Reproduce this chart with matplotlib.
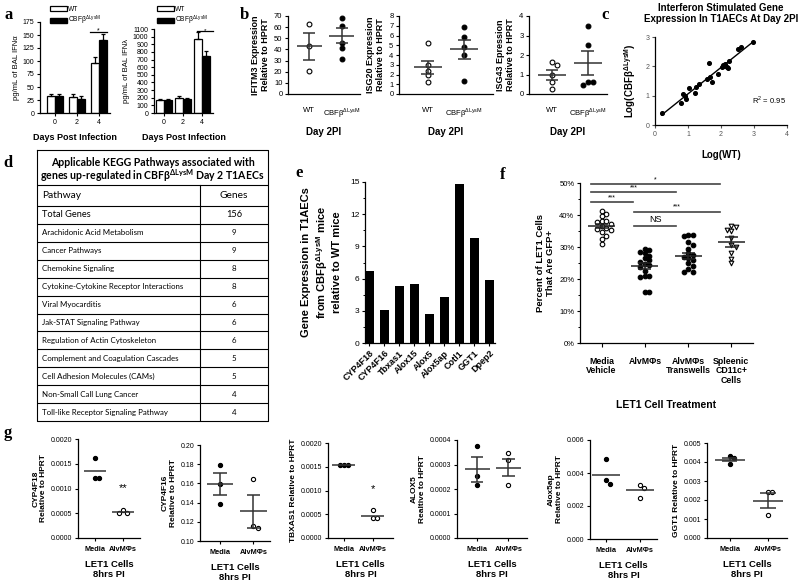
#!/usr/bin/env python3
"""
Multi-panel figure: BAL interferons, ISG expression, KEGG table,
T1AEC gene expression and LET1 co-culture results
"""

import matplotlib
matplotlib.use('Agg')
import matplotlib.pyplot as plt
import numpy as np
from matplotlib.patches import Patch
from matplotlib.ticker import MultipleLocator, PercentFormatter, FormatStrFormatter

# Arial-like text everywhere, mathtext only for the superscripts
plt.rcParams['font.family'] = ['Liberation Sans', 'DejaVu Sans']
plt.rcParams['mathtext.fontset'] = 'custom'
plt.rcParams['mathtext.rm'] = 'Liberation Sans'
plt.rcParams['mathtext.bf'] = 'Liberation Sans:bold'
plt.rcParams['axes.linewidth'] = 0.9

CBF = 'CBFβ$^{\\mathregular{ΔLysM}}$'

# ---- a: BAL interferon levels (pg/mL)
a_days = ['0', '2', '4']
ifna_wt = [32, 31, 96]
ifna_wt_err = [4, 6, 12]
ifna_ko = [32, 26, 140]
ifna_ko_err = [4, 6, 11]
ifnl_wt = [172, 196, 965]
ifnl_wt_err = [8, 22, 100]
ifnl_ko = [176, 188, 748]
ifnl_ko_err = [6, 12, 70]

# ---- b: ISG expression relative to HPRT
b_groups = ['WT', CBF]
ifitm3_wt = [63, 43, 21]
ifitm3_ko = [68, 61, 46, 41, 31]
ifitm3_mean = [42.7, 52.2]
ifitm3_sem = [12.1, 6.6]
isg20_wt = [5.2, 3.0, 2.4, 1.9, 1.25]
isg20_ko = [6.9, 5.8, 4.8, 4.0, 1.3]
isg20_mean = [2.75, 4.6]
isg20_sem = [0.68, 0.97]
isg43_wt = [1.65, 1.5, 0.95, 0.6, 0.25]
isg43_ko = [3.5, 2.5, 0.62, 0.6, 0.45]
isg43_mean = [0.98, 1.57]
isg43_sem = [0.26, 0.61]

# ---- c: log expression, CBFb KO vs WT
c_log_wt = [0.2, 0.79, 0.85, 0.92, 0.94, 1.02, 1.2, 1.25, 1.34, 1.59, 1.63, 1.67,
            1.72, 1.92, 2.02, 2.07, 2.1, 2.13, 2.17, 2.2, 2.24, 2.5, 2.6, 2.98]
c_log_ko = [0.4, 0.74, 1.05, 1.0, 0.88, 1.25, 1.08, 1.29, 1.4, 1.58, 2.1, 1.63,
            1.48, 1.74, 1.99, 2.05, 2.02, 2.07, 1.99, 1.93, 2.18, 2.58, 2.65, 2.84]
c_r2 = 0.95

# ---- d: KEGG pathway table
kegg_pathways = ['Total Genes', 'Arachidonic Acid Metabolism', 'Cancer Pathways',
                 'Chemokine Signaling', 'Cytokine-Cytokine Receptor Interactions',
                 'Viral Myocarditis', 'Jak-STAT Signaling Pathway',
                 'Regulation of Actin Cytoskeleton', 'Complement and Coagulation Cascades',
                 'Cell Adhesion Molecules (CAMs)', 'Non-Small Call Lung Cancer',
                 'Toll-like Receptor Signaling Pathway']
kegg_genes = [156, 9, 9, 8, 8, 6, 6, 6, 5, 5, 4, 4]

# ---- e: fold change in T1AECs
e_genes = ['CYP4F18', 'CYP4F16', 'Tbxas1', 'Alox15', 'Alox5', 'Alox5ap', 'Cotl1', 'GGT1', 'Dpep2']
e_fold = [6.75, 3.05, 5.3, 5.5, 2.7, 4.3, 14.8, 9.8, 5.9]

# ---- f: percent GFP+ LET1 cells
f_groups = ['Media\nVehicle', 'AlvMΦs', 'AlvMΦs\nTranswells', 'Spleenic\nCD11c+\nCells']
f_media = [41.2, 40.4, 39.6, 38.2, 38.0, 37.8, 37.3, 36.5, 36.0, 35.6, 35.4, 34.6, 33.4, 32.6, 30.8]
f_alvm = [29.5, 29.2, 28.3, 28.0, 27.2, 26.5, 25.8, 25.3, 24.8, 24.3, 23.8, 22.5, 21.0, 20.6,
          20.8, 16.0, 16.0]
f_transwell = [33.6, 33.6, 33.5, 31.5, 30.5, 29.5, 28.0, 27.5, 27.0, 26.5, 26.0, 25.0, 24.0,
               23.0, 22.3, 22.3]
f_spleen = [36.5, 36.2, 35.3, 35.0, 32.8, 30.5, 30.0, 28.0, 26.3, 25.0]
f_means = [36.6, 24.1, 27.3, 31.6]
f_sems = [0.7, 1.0, 0.9, 1.5]
f_sig = ['***', '***', '*', 'NS', '***']
f_sig_pairs = [(0, 1), (0, 2), (0, 3), (1, 2), (1, 3)]

# ---- g: LET1 cells 8 hrs PI, relative to HPRT
g_groups = ['Media', 'AlvMΦs']
cyp4f18_media = [0.00162, 0.00122, 0.00122]
cyp4f18_alvm = [0.00057, 0.00051, 0.00051]
cyp4f18_mean = [0.00136, 0.00052]
cyp4f16_media = [0.179, 0.159, 0.139]
cyp4f16_alvm = [0.165, 0.116, 0.114]
cyp4f16_mean = [0.159, 0.131]
cyp4f16_sem = [0.0115, 0.017]
tbxas1_media = [0.00153, 0.00153, 0.00153]
tbxas1_alvm = [0.00058, 0.00042, 0.00042]
tbxas1_mean = [0.00153, 0.00047]
alox5_media = [0.000375, 0.000255, 0.000215]
alox5_alvm = [0.000345, 0.00032, 0.000216]
alox5_mean = [0.00028, 0.000287]
alox5_sem = [0.00005, 0.000035]
alox5ap_media = [0.00483, 0.00355, 0.00335]
alox5ap_alvm = [0.00325, 0.0031, 0.0025]
alox5ap_mean = [0.0039, 0.00295]
ggt1_media = [0.0043, 0.0042, 0.0039]
ggt1_alvm = [0.0024, 0.0024, 0.0012]
ggt1_mean = [0.00413, 0.00197]
ggt1_sem = [0.0001, 0.0004]

W, H = 800, 584
fig = plt.figure(figsize=(W / 100, H / 100), dpi=100)
fig.patch.set_facecolor('white')


def box(x0, y0, x1, y1):
    """Axes placed from a pixel box (left, top, right, bottom)"""
    return fig.add_axes([x0 / W, 1 - y1 / H, (x1 - x0) / W, (y1 - y0) / H])


def style(ax, size=5):
    for s in ('top', 'right'):
        ax.spines[s].set_visible(False)
    ax.tick_params(direction='out', length=2.5, width=0.8, labelsize=size, pad=1.5)


def letter(x, y, s):
    fig.text(x / W, 1 - y / H, s, family='Liberation Serif', weight='bold',
             size=12, ha='center', va='center')


def swarm(ax, vals, diam):
    """Horizontal offsets so markers with close values sit side by side"""
    x0, x1 = ax.get_xlim()
    y0, y1 = ax.get_ylim()
    pos = ax.get_position()
    sx = diam * (x1 - x0) / (pos.width * W)
    sy = diam * (y1 - y0) / (pos.height * H)
    vals = np.asarray(vals, float)
    offs = np.zeros(len(vals))
    done = []
    for i in np.argsort(-vals):
        for k in (0, 1, -1, 2, -2, 3, -3, 4, -4):
            if all(abs(vals[i] - vals[j]) >= sy * 0.9 or abs(k * sx - offs[j]) >= sx * 0.9
                   for j in done):
                offs[i] = k * sx
                break
        done.append(i)
    return offs


def dots(ax, groups, markers, fills, means, sems=None, diam=4.5, half=0.38, cap=0.18,
         color='#333333'):
    for i, vals in enumerate(groups):
        off = swarm(ax, vals, diam)
        ax.scatter(i + off, vals, s=(diam * 0.72) ** 2, marker=markers[i], facecolor=fills[i],
                   edgecolor='black', linewidth=0.8, zorder=3, clip_on=False)
        ax.hlines(means[i], i - half, i + half, color=color, lw=1.1, zorder=4)
        if sems is not None:
            lo, hi = means[i] - sems[i], means[i] + sems[i]
            ax.vlines(i, lo, hi, color=color, lw=1.1, zorder=4)
            ax.hlines([lo, hi], i - cap, i + cap, color=color, lw=1.1, zorder=4)


# ================= a =================
letter(9, 15, 'a')
ekw = dict(elinewidth=0.9, capsize=1.6, capthick=0.9, ecolor='black')


def ifn_panel(ax, wt, wt_err, ko, ko_err, width):
    x = np.arange(len(a_days))
    ax.bar(x - width / 2, wt, width, color='white', edgecolor='black', linewidth=0.9,
           yerr=[np.zeros(len(wt)), wt_err], error_kw=ekw)
    ax.bar(x + width / 2, ko, width, color='black', edgecolor='black', linewidth=0.9,
           yerr=[np.zeros(len(ko)), ko_err], error_kw=ekw)
    ax.set_xticks(x)
    ax.set_xticklabels(a_days)
    style(ax)
    ax.tick_params(axis='x', length=2.5, pad=2)
    ax.set_xlabel('Days Post Infection', fontsize=6.5, weight='bold', labelpad=5)


def ifn_legend(x):
    fig.legend([Patch(fc='white', ec='black', lw=0.9), Patch(fc='black', ec='black')],
               ['WT', CBF], loc='upper left', bbox_to_anchor=(x / W, 1 - 6 / H),
               frameon=False, fontsize=4.8, handlelength=2.5, handleheight=0.85,
               handletextpad=0.15, labelspacing=0.1, borderpad=0, borderaxespad=0)


ax = box(40, 22, 110, 113)
ifn_panel(ax, ifna_wt, ifna_wt_err, ifna_ko, ifna_ko_err, 0.36)
ax.set_xlim(-0.68, 2.5)
ax.set_ylim(0, 175)
ax.yaxis.set_major_locator(MultipleLocator(25))
ax.set_ylabel('pg/mL of BAL IFNα', fontsize=5.5, labelpad=2)
ax.plot([1.6, 2.35], [155, 155], color='black', lw=0.9, clip_on=False)
ax.text(1.98, 157, '*', ha='center', va='center', fontsize=5)
ifn_legend(50)

ax = box(154, 29, 213, 113)
ifn_panel(ax, ifnl_wt, ifnl_wt_err, ifnl_ko, ifnl_ko_err, 0.42)
ax.set_xlim(-0.53, 2.58)
ax.set_ylim(0, 1100)
ax.yaxis.set_major_locator(MultipleLocator(100))
ax.set_ylabel('pg/mL of BAL IFNλ', fontsize=5.5, labelpad=2)
ax.plot([1.74, 2.58], [1075, 1075], color='black', lw=0.9, clip_on=False)
ax.text(2.16, 1080, '*', ha='center', va='center', fontsize=4.6)
ifn_legend(157)

# ================= b =================
letter(244, 15, 'b')
b_specs = [
    ((288, 16, 360, 94), (-0.64, 1.55), (0, 70), 10, 'IFITM3 Expression\nRelative to HPRT',
     ifitm3_wt, ifitm3_ko, ifitm3_mean, ifitm3_sem),
    ((399, 16, 493, 94), (-0.8, 1.8), (0, 8), 1, 'ISG20 Expression\nRelative to HPRT',
     isg20_wt, isg20_ko, isg20_mean, isg20_sem),
    ((529, 16, 607, 94), (-0.64, 1.53), (0, 4), 1, 'ISG43 Epression\nRelative to HPRT',
     isg43_wt, isg43_ko, isg43_mean, isg43_sem),
]
for pix, xl, yl, step, lab, wt, ko, mean, sem in b_specs:
    ax = box(*pix)
    ax.set_xlim(*xl)
    ax.set_ylim(*yl)
    ax.yaxis.set_major_locator(MultipleLocator(step))
    style(ax, 5.5)
    ax.set_xticks([0, 1])
    ax.set_xticklabels(b_groups, fontsize=5.5)
    ax.tick_params(axis='x', length=0, pad=9)
    ax.set_ylabel(lab, fontsize=6.5, weight='bold', labelpad=3, linespacing=1.1)
    ax.set_xlabel('Day 2PI', fontsize=7, weight='bold', labelpad=5)
    dots(ax, [wt, ko], ['o', 'o'], ['white', 'black'], mean, sem, diam=4.8)

# ================= c =================
letter(605, 15, 'c')
ax = box(655, 37, 787, 125)
ax.set_xlim(0, 4)
ax.set_ylim(0, 3)
style(ax, 5)
ax.tick_params(labelcolor='#555555', colors='#555555')
ax.xaxis.set_major_locator(MultipleLocator(1))
ax.yaxis.set_major_locator(MultipleLocator(1))
ax.scatter(c_log_wt, c_log_ko, s=7, color='black', zorder=3)
slope, icpt = np.polyfit(c_log_wt, c_log_ko, 1)
xs = np.array([min(c_log_wt), max(c_log_wt)])
ax.plot(xs, slope * xs + icpt, color='black', lw=1)
ax.text(3.45, 0.85, 'R$^{\\mathregular{2}}$ = %.2f' % c_r2, ha='center', va='center', fontsize=5.5)
ax.set_title('Interferon Stimulated Gene\nExpression In T1AECs At Day 2PI', fontsize=7,
             weight='bold', pad=11, linespacing=1.15)
ax.set_xlabel('Log(WT)', fontsize=7, weight='bold', labelpad=9)
ax.set_ylabel('Log(' + CBF + ')', fontsize=7, weight='bold', labelpad=5)

# ================= d =================
letter(8, 163, 'd')
tfont = ['Lato', 'DejaVu Sans']
ax = box(37, 150, 268, 421)
ax.set_xlim(37, 268)
ax.set_ylim(421, 150)
ax.axis('off')
row_top = 206
row_h = (421 - row_top) / len(kegg_pathways)
lw = 0.8
ax.plot([37, 268, 268, 37, 37], [150, 150, 421, 421, 150], color='black', lw=lw, clip_on=False)
ax.plot([37, 268], [185, 185], color='black', lw=lw)
for k in range(len(kegg_pathways)):
    ax.plot([37, 268], [row_top + k * row_h] * 2, color='black', lw=lw)
ax.plot([200, 200], [185, 421], color='black', lw=lw)
ax.text(152.5, 162, 'Applicable KEGG Pathways associated with', ha='center', va='center',
        family=tfont, weight='bold', fontsize=7.6)
ax.text(152.5, 175.5, 'genes up-regulated in ' + CBF + ' Day 2 T1AECs', ha='center',
        va='center', family=tfont, weight='bold', fontsize=7.6)
ax.text(42, 196, 'Pathway', ha='left', va='center', family=tfont, fontsize=7.4)
ax.text(234, 196, 'Genes', ha='center', va='center', family=tfont, fontsize=7.4)
for k, (name, n) in enumerate(zip(kegg_pathways, kegg_genes)):
    yc = row_top + (k + 0.5) * row_h
    fs = 6.7 if k == 0 else 5.7
    ax.text(42, yc, name, ha='left', va='center', family=tfont, fontsize=fs)
    ax.text(234, yc, str(n), ha='center', va='center', family=tfont, fontsize=fs)

# ================= e =================
letter(299, 173, 'e')
ax = box(365, 182, 495, 343)
xe = np.arange(len(e_genes))
ax.bar(xe, e_fold, 0.6, color='black')
ax.set_xlim(-0.28, 8.4)
ax.set_ylim(0, 15)
ax.yaxis.set_major_locator(MultipleLocator(3))
ax.yaxis.set_minor_locator(MultipleLocator(1.5))
style(ax, 6)
ax.tick_params(axis='y', which='minor', length=1.5, width=0.7)
ax.set_xticks(xe)
ax.set_xticklabels(e_genes, rotation=45, ha='right', rotation_mode='anchor',
                   fontsize=6.5, weight='bold')
ax.set_ylabel('Gene Expression in T1AECs\nfrom ' + CBF + ' mice\nrelative to WT mice',
              fontsize=8, weight='bold', labelpad=6, linespacing=1.25)

# ================= f =================
letter(503, 175, 'f')
ax = box(580, 183, 753, 343)
ax.set_xlim(-0.5, 3.5)
ax.set_ylim(0, 50)
ax.yaxis.set_major_locator(MultipleLocator(10))
ax.yaxis.set_minor_locator(MultipleLocator(5))
ax.yaxis.set_major_formatter(PercentFormatter(decimals=0))
style(ax, 5.5)
ax.tick_params(axis='y', which='minor', length=1.5, width=0.7)
ax.set_xticks(range(4))
ax.set_xticklabels(f_groups, fontsize=6.3, weight='bold', linespacing=1.05)
ax.tick_params(axis='x', length=3, pad=7)
ax.set_ylabel('Percent of LET1 Cells\nThat Are GFP+', fontsize=6.8, weight='bold',
              labelpad=3, linespacing=1.1)
ax.set_xlabel('LET1 Cell Treatment', fontsize=7.5, weight='bold', labelpad=11)
dots(ax, [f_media, f_alvm, f_transwell, f_spleen], ['o', 'o', 'o', 'v'],
     ['white', 'black', 'black', 'white'], f_means, f_sems, diam=4.6, half=0.31, cap=0.15,
     color='#222222')
sig_heights = [44.1, 47.2, 49.7, 36.6, 41.0]
for txt, (i, j), yy in zip(f_sig, f_sig_pairs, sig_heights):
    ax.plot([i - 0.25, j - 0.27], [yy, yy], color='#444444', lw=1.2, clip_on=False)
    big = txt == 'NS'
    ax.text((i - 0.25 + j - 0.27) / 2, yy + (0.6 if big else 0.3), txt, ha='center',
            va='bottom', fontsize=6.5 if big else 5, clip_on=False)

# ================= g =================
letter(8, 433, 'g')
g_specs = [
    ((78, 439, 140, 538), (-0.6, 1.6), (0, 0.002), 0.0005, '%.4f', 'CYP4F18\nRelative to HPRT',
     cyp4f18_media, cyp4f18_alvm, cyp4f18_mean, None, '**'),
    ((200, 445, 270, 541), (-0.6, 1.5), (0.10, 0.20), 0.02, '%.2f', 'CYP4F16\nRelative to HPRT',
     cyp4f16_media, cyp4f16_alvm, cyp4f16_mean, cyp4f16_sem, None),
    ((328, 443, 393, 538), (-0.55, 1.7), (0, 0.002), 0.0005, '%.4f', 'TBXAS1 Relative to HPRT',
     tbxas1_media, tbxas1_alvm, tbxas1_mean, None, '*'),
    ((457, 440, 527, 538), (-0.65, 1.6), (0, 0.0004), 0.0001, '%.4f', 'ALOX5\nRealtive to HPRT',
     alox5_media, alox5_alvm, alox5_mean, alox5_sem, None),
    ((590, 440, 657, 539), (-0.47, 1.5), (0, 0.006), 0.002, '%.3f', 'Alox5ap\nRelative to HPRT',
     alox5ap_media, alox5ap_alvm, alox5ap_mean, None, None),
    ((707, 443, 787, 538), (-0.6, 1.5), (0, 0.005), 0.001, '%.3f', 'GGT1 Relative to HPRT',
     ggt1_media, ggt1_alvm, ggt1_mean, ggt1_sem, None),
]
for pix, xl, yl, step, fmt, lab, med, alv, mean, sem, star in g_specs:
    ax = box(*pix)
    ax.set_xlim(*xl)
    ax.set_ylim(*yl)
    ax.yaxis.set_major_locator(MultipleLocator(step))
    ax.yaxis.set_major_formatter(FormatStrFormatter(fmt))
    style(ax, 5)
    ax.set_xticks([0, 1])
    ax.set_xticklabels(g_groups, fontsize=5.3, weight='bold')
    ax.tick_params(axis='x', length=2, pad=4)
    ax.set_ylabel(lab, fontsize=6, weight='bold', labelpad=3, linespacing=1.1)
    ax.set_xlabel('LET1 Cells\n8hrs PI', fontsize=6.8, weight='bold', labelpad=5,
                  linespacing=1.1)
    dots(ax, [med, alv], ['o', 'o'], ['black', 'white'], mean, sem, diam=4.2, half=0.4,
         cap=0.2)
    if star:
        ax.text(1, max(alv) + (yl[1] - yl[0]) * 0.22, star, ha='center', va='center',
                fontsize=8)

plt.savefig('out.png', dpi=100, facecolor='white')
